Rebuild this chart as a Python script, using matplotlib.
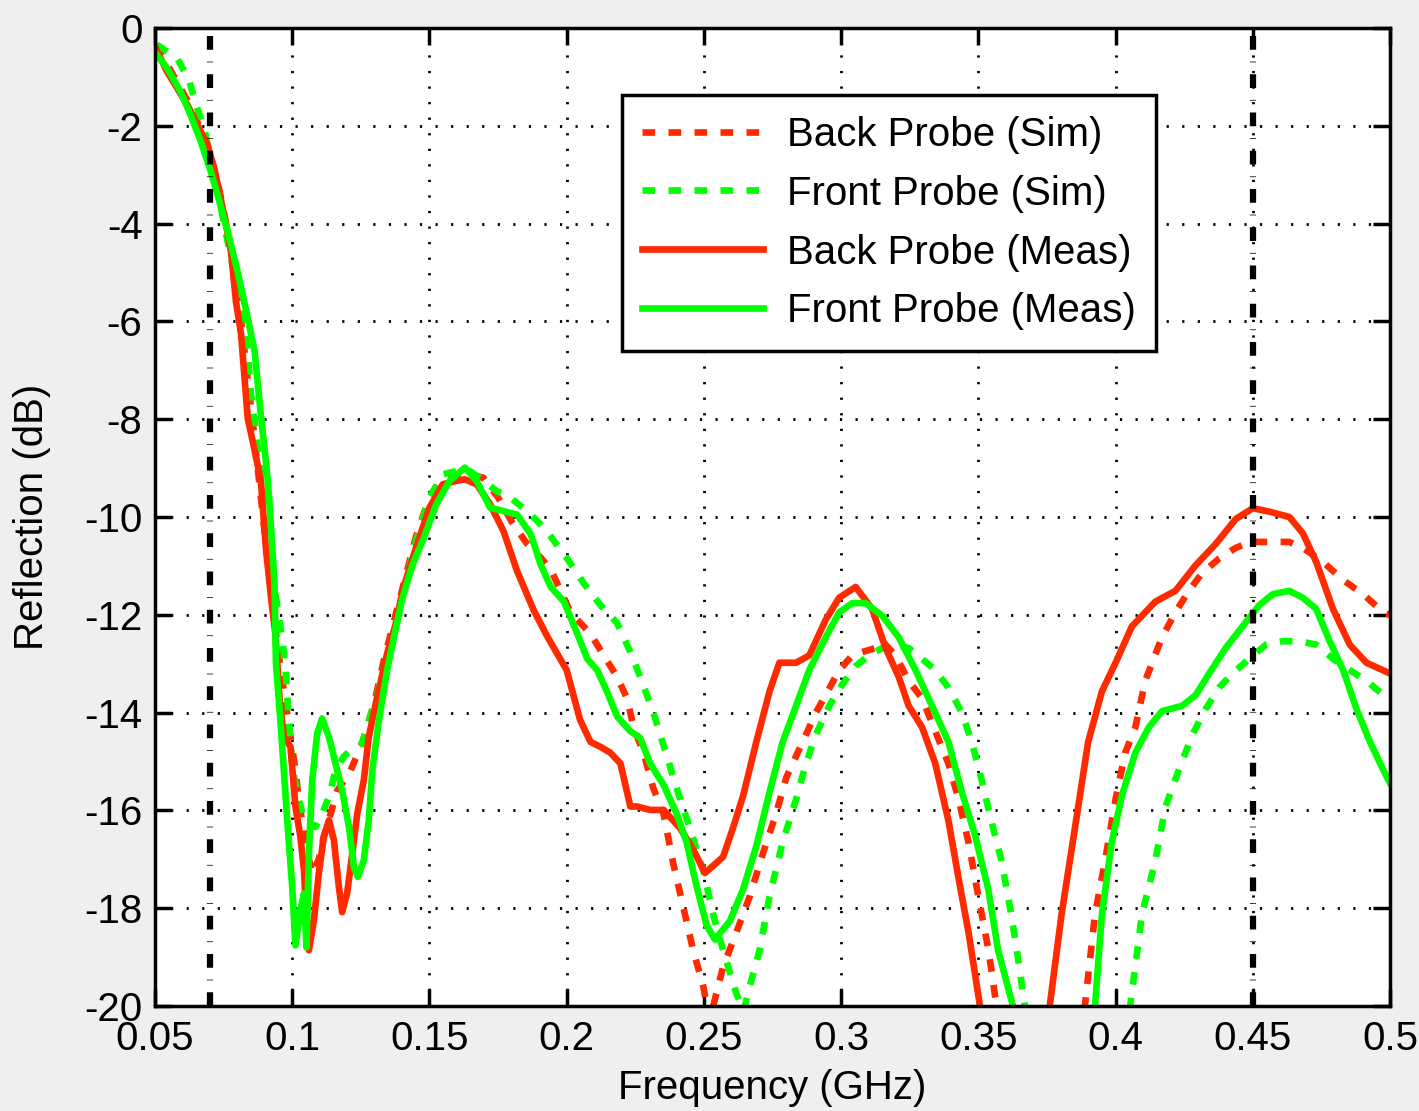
import matplotlib
matplotlib.use("Agg")
import matplotlib.pyplot as plt

plt.rcParams['font.family'] = ['Liberation Sans', 'DejaVu Sans']
plt.rcParams['axes.unicode_minus'] = False

# Back Probe (Meas) - red solid
back_meas_f = [0.050, 0.0544, 0.0618, 0.0691, 0.0716, 0.0734, 0.0759, 0.0777, 0.0795, 0.0814, 0.0838, 0.0861,
               0.0886, 0.0904, 0.0923, 0.0939, 0.0955, 0.097, 0.0994, 0.1012, 0.103, 0.1043, 0.1049, 0.1061,
               0.1079, 0.1097, 0.1115, 0.1134, 0.1152, 0.117, 0.1182, 0.12, 0.1219, 0.1237, 0.1261, 0.1279,
               0.131, 0.1346, 0.1377, 0.1402, 0.1451, 0.15, 0.1549, 0.1598, 0.1629, 0.1672, 0.1721, 0.177,
               0.1819, 0.1881, 0.193, 0.2, 0.2049, 0.2087, 0.2123, 0.2159, 0.2196, 0.2232, 0.2256, 0.2304,
               0.2353, 0.2413, 0.2461, 0.2504, 0.257, 0.2606, 0.2643, 0.2691, 0.2739, 0.2775, 0.2836, 0.2884,
               0.2944, 0.2993, 0.3053, 0.3113, 0.3162, 0.321, 0.3246, 0.3295, 0.3343, 0.3391, 0.3428, 0.3464,
               0.3506, 0.3635, 0.376, 0.3803, 0.3864, 0.39, 0.395, 0.4, 0.4059, 0.4145, 0.4218, 0.4291,
               0.4365, 0.4438, 0.45, 0.456, 0.4633, 0.4682, 0.4731, 0.4792, 0.4853, 0.4914, 0.5]
back_meas_db = [-0.38, -0.89, -1.57, -2.39, -2.87, -3.34, -4.02, -4.57, -5.59, -6.27, -7.98, -8.58,
                -9.26, -10.63, -11.65, -12.4, -13.8, -14.5, -14.7, -15.93, -16.54, -17.22, -17.9, -18.86,
                -18.25, -17.29, -16.54, -16.2, -16.61, -17.56, -18.08, -17.7, -16.88, -16.07, -15.38, -14.5,
                -13.67, -12.79, -12.19, -11.51, -10.63, -9.81, -9.33, -9.26, -9.23, -9.33, -9.74, -10.29,
                -11.1, -11.92, -12.45, -13.13, -14.15, -14.6, -14.7, -14.82, -15.04, -15.92, -15.92, -15.99,
                -15.99, -16.36, -16.8, -17.28, -16.95, -16.36, -15.7, -14.6, -13.57, -12.98, -12.98, -12.83,
                -12.1, -11.65, -11.43, -11.88, -12.68, -13.27, -13.86, -14.3, -15.04, -16.21, -17.39, -18.49,
                -20.0, -24.0, -20.0, -18.13, -15.92, -14.6, -13.57, -12.98, -12.24, -11.73, -11.51, -10.99,
                -10.55, -10.04, -9.82, -9.89, -10.0, -10.33, -10.92, -11.88, -12.61, -12.98, -13.2]

# Back Probe (Sim) - red dashed
back_sim_f = [0.050, 0.055, 0.062, 0.069, 0.0734, 0.0777, 0.0814, 0.0838, 0.0861, 0.0886, 0.0916, 0.0947,
              0.0976, 0.0994, 0.1012, 0.1024, 0.1043, 0.1061, 0.1073, 0.1097, 0.1115, 0.114, 0.1164, 0.1213,
              0.1255, 0.1298, 0.1334, 0.1377, 0.1414, 0.1451, 0.15, 0.1549, 0.1598, 0.163, 0.1697, 0.175,
              0.18, 0.1856, 0.1905, 0.1942, 0.2014, 0.2087, 0.2135, 0.2184, 0.222, 0.2244, 0.228, 0.2316,
              0.2353, 0.2389, 0.2425, 0.2461, 0.2498, 0.252, 0.2534, 0.257, 0.2618, 0.2667, 0.2715, 0.2763,
              0.28, 0.2836, 0.2872, 0.2908, 0.2944, 0.2993, 0.3041, 0.3077, 0.3126, 0.315, 0.3198, 0.3246,
              0.3295, 0.3343, 0.3391, 0.3428, 0.3464, 0.35, 0.3537, 0.3561, 0.372, 0.3888, 0.3925, 0.3962,
              0.4, 0.4035, 0.4072, 0.4108, 0.4169, 0.4218, 0.4267, 0.4316, 0.4377, 0.4438, 0.4495, 0.456,
              0.4633, 0.4682, 0.4756, 0.4829, 0.4902, 0.4976, 0.5]
back_sim_db = [-0.35, -0.8, -1.5, -2.35, -3.3, -4.5, -6.0, -7.2, -8.3, -9.6, -11.17, -12.67,
               -13.8, -14.5, -15.18, -15.79, -16.47, -17.0, -17.3, -17.0, -16.54, -16.07, -15.6, -15.18,
               -14.63, -13.82, -12.93, -12.0, -11.2, -10.4, -9.6, -9.25, -9.15, -9.1, -9.2, -9.6,
               -10.1, -10.55, -10.83, -11.07, -11.95, -12.39, -12.83, -13.27, -13.71, -14.3, -14.82, -15.55,
               -16.07, -17.1, -17.98, -18.86, -19.6, -20.3, -20.0, -19.2, -18.5, -17.76, -16.88, -16.07,
               -15.33, -14.89, -14.45, -14.0, -13.64, -13.13, -12.83, -12.76, -12.68, -12.54, -12.83, -13.35,
               -13.71, -14.38, -15.04, -15.77, -16.65, -17.76, -18.86, -19.8, -25.0, -20.0, -18.13, -17.02,
               -15.77, -14.82, -14.3, -13.35, -12.46, -11.95, -11.51, -11.14, -10.85, -10.63, -10.51, -10.51,
               -10.51, -10.63, -10.92, -11.29, -11.58, -11.95, -12.0]

# Front Probe (Meas) - green solid
front_meas_f = [0.050, 0.0544, 0.0593, 0.063, 0.0667, 0.0703, 0.0728, 0.0765, 0.0801, 0.0838, 0.0863, 0.0887,
                0.0905, 0.0916, 0.0935, 0.0941, 0.0957, 0.0982, 0.1, 0.1012, 0.103, 0.1043, 0.1052, 0.1061,
                0.1073, 0.1091, 0.1109, 0.1134, 0.1158, 0.1182, 0.1207, 0.1225, 0.1239, 0.1261, 0.1279, 0.1292,
                0.1316, 0.1346, 0.1371, 0.1402, 0.1439, 0.1475, 0.1525, 0.1574, 0.1629, 0.1672, 0.1721, 0.177,
                0.1819, 0.1869, 0.1905, 0.1942, 0.199, 0.2039, 0.2075, 0.2111, 0.2147, 0.2184, 0.2232, 0.2268,
                0.2304, 0.2353, 0.2401, 0.2437, 0.2473, 0.251, 0.254, 0.2594, 0.2643, 0.2691, 0.2739, 0.2787,
                0.2836, 0.2884, 0.2944, 0.2993, 0.3041, 0.3089, 0.315, 0.321, 0.3271, 0.3331, 0.3391, 0.344,
                0.3488, 0.3536, 0.3572, 0.3626, 0.3775, 0.3925, 0.395, 0.3986, 0.4023, 0.4072, 0.4121, 0.4169,
                0.4243, 0.4292, 0.4341, 0.4401, 0.4462, 0.4524, 0.4572, 0.4633, 0.4682, 0.4731, 0.478, 0.4829,
                0.4878, 0.4927, 0.4976, 0.5]
front_meas_db = [-0.5, -0.82, -1.3, -1.78, -2.32, -2.93, -3.41, -4.16, -4.98, -5.93, -6.61, -7.98,
                 -8.9, -9.6, -11.3, -13.0, -14.16, -16.2, -17.56, -18.76, -18.04, -17.7, -18.8, -16.88,
                 -15.38, -14.43, -14.12, -14.5, -15.04, -15.59, -16.34, -17.16, -17.36, -17.02, -16.2, -15.18,
                 -14.16, -13.13, -12.45, -11.65, -10.97, -10.49, -9.74, -9.26, -8.99, -9.26, -9.81, -9.88,
                 -9.95, -10.35, -10.97, -11.43, -11.73, -12.39, -12.9, -13.13, -13.57, -14.08, -14.38, -14.52,
                 -15.04, -15.48, -16.07, -16.65, -17.54, -18.35, -18.64, -18.27, -17.61, -16.73, -15.63, -14.6,
                 -13.86, -13.13, -12.46, -11.95, -11.76, -11.76, -12.02, -12.46, -13.13, -13.86, -14.6, -15.63,
                 -16.51, -17.61, -18.86, -20.0, -25.0, -20.0, -18.13, -16.65, -15.7, -14.82, -14.3, -13.97,
                 -13.86, -13.64, -13.2, -12.68, -12.24, -11.8, -11.58, -11.51, -11.65, -11.88, -12.54, -13.13,
                 -13.93, -14.6, -15.18, -15.44]

# Front Probe (Sim) - green dashed
front_sim_f = [0.0507, 0.0581, 0.0624, 0.0648, 0.0679, 0.0697, 0.0716, 0.0734, 0.0752, 0.0781, 0.0814, 0.0838,
               0.085, 0.0875, 0.0905, 0.0941, 0.0964, 0.0976, 0.0988, 0.1, 0.1024, 0.1049, 0.1085, 0.1109,
               0.1134, 0.1158, 0.1188, 0.1213, 0.1255, 0.1279, 0.1303, 0.134, 0.1377, 0.1414, 0.1451, 0.15,
               0.1549, 0.1598, 0.1647, 0.1697, 0.1745, 0.1794, 0.1856, 0.1918, 0.2002, 0.2063, 0.2123, 0.2184,
               0.2232, 0.2268, 0.2316, 0.2353, 0.2401, 0.2449, 0.2498, 0.2534, 0.257, 0.2618, 0.2645, 0.2667,
               0.2703, 0.2739, 0.2787, 0.2836, 0.2872, 0.2908, 0.2957, 0.3005, 0.3053, 0.3101, 0.315, 0.3198,
               0.3246, 0.3295, 0.3343, 0.3391, 0.344, 0.3476, 0.351, 0.3547, 0.3584, 0.362, 0.3644, 0.3669,
               0.386, 0.4053, 0.4096, 0.4145, 0.4182, 0.423, 0.428, 0.4328, 0.4377, 0.4426, 0.4487, 0.4548,
               0.4609, 0.467, 0.4731, 0.4792, 0.4853, 0.4914, 0.4976, 0.5]
front_sim_db = [-0.34, -0.62, -1.06, -1.54, -2.05, -2.52, -2.93, -3.48, -4.02, -4.8, -5.59, -6.61,
                -7.5, -8.6, -10.0, -11.65, -12.5, -13.13, -14.16, -15.11, -15.79, -16.27, -16.34, -16.07,
                -15.72, -15.18, -14.9, -14.77, -14.63, -14.17, -13.76, -12.94, -12.19, -11.31, -10.49, -9.6,
                -9.13, -9.06, -9.06, -9.26, -9.47, -9.6, -9.88, -10.22, -10.85, -11.36, -11.8, -12.17,
                -12.76, -13.27, -14.0, -14.67, -15.55, -16.36, -17.24, -18.13, -18.86, -19.74, -20.1, -19.6,
                -18.86, -17.76, -16.65, -15.77, -15.04, -14.45, -13.86, -13.42, -13.05, -12.83, -12.68, -12.61,
                -12.68, -12.9, -13.13, -13.49, -14.0, -14.6, -15.33, -16.21, -17.02, -18.13, -19.0, -20.0,
                -25.0, -20.0, -18.13, -17.02, -15.92, -15.18, -14.45, -13.93, -13.49, -13.2, -12.9, -12.61,
                -12.54, -12.54, -12.61, -12.9, -13.13, -13.35, -13.64, -13.7]

band_edges = [0.07, 0.45]
x_ticks = [0.05, 0.1, 0.15, 0.2, 0.25, 0.3, 0.35, 0.4, 0.45, 0.5]
x_tick_labels = ['0.05', '0.1', '0.15', '0.2', '0.25', '0.3', '0.35', '0.4', '0.45', '0.5']
y_ticks = [0, -2, -4, -6, -8, -10, -12, -14, -16, -18, -20]

red = '#ff2a00'
green = '#00ff00'
lw = 4.8
dash = (1.9, 2.0)

fig = plt.figure(figsize=(14.19, 11.11), dpi=100, facecolor='#efefef')
ax = fig.add_axes([0.1092, 0.0945, 0.8704, 0.8803])
ax.set_facecolor('white')

ax.plot(back_sim_f, back_sim_db, color=red, lw=lw, dashes=dash, label='Back Probe (Sim)')
ax.plot(front_sim_f, front_sim_db, color=green, lw=lw, dashes=dash, label='Front Probe (Sim)')
ax.plot(back_meas_f, back_meas_db, color=red, lw=lw, label='Back Probe (Meas)')
ax.plot(front_meas_f, front_meas_db, color=green, lw=lw, label='Front Probe (Meas)')

# dash-dot band markers
for xe in band_edges:
    ax.axvline(xe, color='black', lw=4.5, dashes=(2.2, 1.9, 0.12, 1.9), zorder=5)

ax.set_xlim(0.05, 0.5)
ax.set_ylim(-20, 0)
ax.set_xticks(x_ticks)
ax.set_xticklabels(x_tick_labels)
ax.set_yticks(y_ticks)
ax.set_yticklabels([str(v) for v in y_ticks])
ax.grid(True, color='black', linestyle=(0, (0.8, 4.8)), linewidth=2)
ax.tick_params(direction='in', length=12, width=2.5, labelsize=29, top=True, right=True)
ax.tick_params(axis='x', pad=10)
ax.tick_params(axis='y', pad=9)
for s in ax.spines.values():
    s.set_linewidth(2.5)

ax.set_xlabel('Frequency (GHz)', fontsize=29, labelpad=8)
ax.set_ylabel('Reflection (dB)', fontsize=29, labelpad=24)

leg = ax.legend(loc='upper left', bbox_to_anchor=(0.378, 0.931), fontsize=29, frameon=True,
                fancybox=False, edgecolor='black', framealpha=1, handlelength=3.0,
                handletextpad=0.6, labelspacing=0.52, borderpad=0.5, borderaxespad=0)
leg.get_frame().set_linewidth(2.5)

fig.savefig('out.png', dpi=100, facecolor=fig.get_facecolor())
